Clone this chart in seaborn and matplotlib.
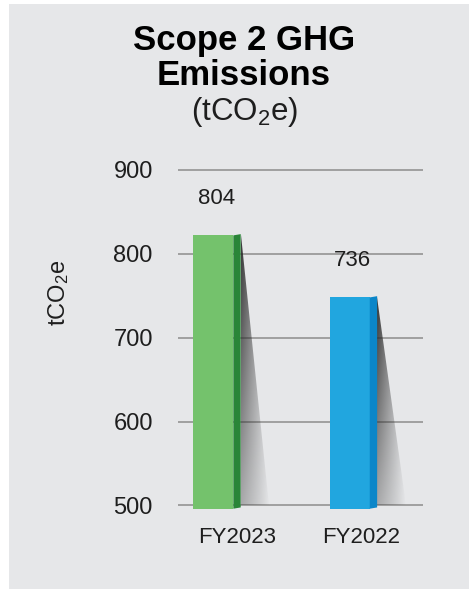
import numpy as np
import pandas as pd
import seaborn as sns
import matplotlib.pyplot as plt
from matplotlib.patches import Polygon, Rectangle
from matplotlib.transforms import ScaledTranslation

# data
years = ["FY2023", "FY2022"]
value_labels = [804, 736]          # numbers printed above bars
bar_heights = [822, 748]           # bar tops as drawn in the picture
yticks = [500, 600, 700, 800, 900]
front_colors = ["#74c26c", "#21a6df"]
side_colors = ["#2a8538", "#0b86c9"]

df = pd.DataFrame({"year": years, "height": bar_heights})

sns.set_theme(style="white")
plt.rcParams["font.family"] = ["Liberation Sans", "DejaVu Sans"]
plt.rcParams["mathtext.fontset"] = "custom"
plt.rcParams["mathtext.rm"] = "Liberation Sans"
plt.rcParams["mathtext.it"] = "Liberation Sans"

bg = "#e6e7e9"
txt = "#1e1e1e"

fig = plt.figure(figsize=(4.69, 5.90), dpi=100, facecolor="white")
# grey panel
fig.patches.append(Rectangle((9 / 469, 0.002), 1, 0.991, transform=fig.transFigure,
                             facecolor=bg, edgecolor="none", zorder=-10))

ax = fig.add_axes([0.379, 0.1378, 0.5224, 0.5812])
ax.set_facecolor("none")

sns.barplot(data=df, x="year", y="height", hue="year", palette=front_colors,
            saturation=1, width=0.293, legend=False, ax=ax, zorder=3, linewidth=0)

xlim = (-0.261, 1.535)
ylim = (496, 905)

# gridlines
ax.set_yticks(yticks)
ax.yaxis.grid(True, color="#8c8c8c", lw=1.1)
ax.set_axisbelow(True)
for s in ax.spines.values():
    s.set_visible(False)
ax.tick_params(axis="both", length=0, colors=txt)
ax.tick_params(axis="y", labelsize=17, pad=18)
ax.tick_params(axis="x", labelsize=16, pad=13)
ax.set_xlabel("")
ax.set_ylabel("tCO$_2$e", fontsize=17, color=txt)
ax.yaxis.set_label_coords(-0.435, 0.63)

# side faces, shadows and value labels
side_w = 0.054
shadow_w = 0.21
for p, sc, lab in zip(ax.patches, side_colors, value_labels):
    x0 = p.get_x()
    w = p.get_width()
    top = p.get_y() + p.get_height()
    xr = x0 + w
    bot = ylim[0]
    side = Polygon([(xr, bot), (xr, top), (xr + side_w, top + 1.5), (xr + side_w, bot + 1.5)],
                   closed=True, facecolor=sc, edgecolor="none", zorder=3)
    ax.add_patch(side)

    # gradient shadow
    sx0 = xr + side_w
    tri = Polygon([(sx0, top), (sx0, yticks[0]), (sx0 + shadow_w, yticks[0])],
                  closed=True, facecolor="none", edgecolor="none")
    ax.add_patch(tri)
    n, m = 200, 60
    v = np.linspace(0, 1, n)[:, None]   # 0 top -> 1 bottom
    u = np.linspace(0, 1, m)[None, :]   # 0 at bar -> 1 right
    alpha = 0.95 * (1 - u) ** 0.9 * (1 - 0.65 * v)
    img = np.zeros((n, m, 4))
    img[..., :3] = 0.18
    img[..., 3] = np.clip(alpha, 0, 1)
    im = ax.imshow(img, extent=[sx0, sx0 + shadow_w, yticks[0], top], origin="upper",
                   aspect="auto", zorder=2, interpolation="bilinear")
    im.set_clip_path(tri)

    ax.annotate(str(lab), (x0 + w / 2, top), xytext=(2, 26.5), textcoords="offset points",
                ha="center", va="center", fontsize=16, color=txt)

ax.set_xlim(*xlim)
ax.set_ylim(*ylim)

# x labels sit a little right of the bars
for t, dx in zip(ax.get_xticklabels(), [24, 11]):
    t.set_transform(t.get_transform() + ScaledTranslation(dx / 100, 0, fig.dpi_scale_trans))

# title
fig.text(0.520, 1 - 50 / 590, "Scope 2 GHG", ha="center", va="baseline",
         fontsize=25, fontweight="bold", color="black")
fig.text(0.520, 1 - 85 / 590, "Emissions", ha="center", va="baseline",
         fontsize=25, fontweight="bold", color="black")
fig.text(0.522, 1 - 120 / 590, "(tCO$_2$e)", ha="center", va="baseline",
         fontsize=22.5, color=txt)

fig.savefig("out.png", dpi=100, facecolor="white")
